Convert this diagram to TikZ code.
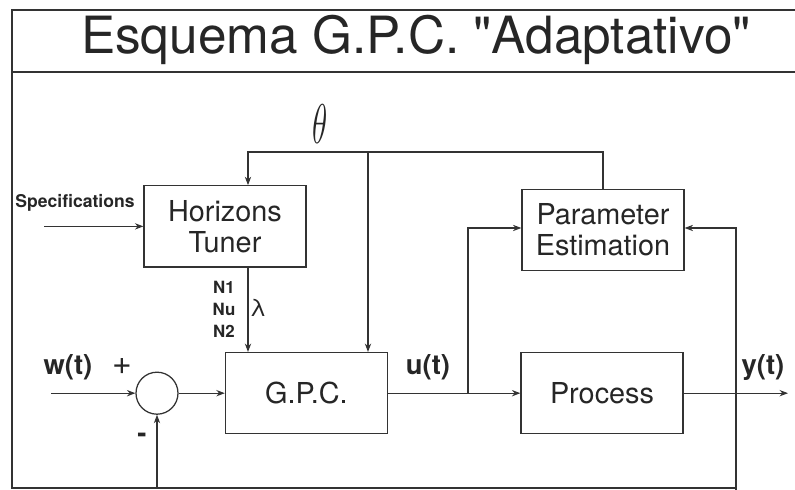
\documentclass[tikz,border=0pt]{standalone}
\usepackage{fontspec}
\setmainfont{TeX Gyre Heros}
\usetikzlibrary{arrows.meta}

\begin{document}
\begin{tikzpicture}[
	block/.style={draw=black!80, line width=0.9pt, shape=rectangle, minimum width=4.05cm, minimum height=2.03cm, align=center, font=\fontsize{20.5}{22}\selectfont, text=black!85},
	wire/.style={draw=black!80, line width=0.8pt, -{Stealth[length=6pt, width=4.5pt]}},
	line/.style={draw=black!80, line width=0.8pt},
	sig/.style={font=\bfseries\fontsize{19.5}{22}\selectfont, text=black!85}]
	\useasboundingbox (0, 0) rectangle (19.875, 12.25);
	% Frame and title:
	\draw[line, line width=1pt] (19.875, 12) -- (0.3, 12) -- (0.3, 0.05) -- (18.4, 0.05);
	\draw[line, line width=1pt] (0.3, 10.45) -- (19.875, 10.45);
	\node[font=\fontsize{36.5}{40}\selectfont, text=black!85] (title) at (10.4, 11.25){Esquema G.P.C. \textquotedbl Adaptativo\textquotedbl};
	% Blocks:
	\node[block] (tuner) at (5.625, 6.59){Horizons\\Tuner};
	\node[block] (estim) at (15.075, 6.5){Parameter\\Estimation};
	\node[block] (gpc) at (7.66, 2.42){G.P.C.};
	\node[block] (proc) at (15.05, 2.42){Process};
	\node[draw=black!80, line width=0.9pt, shape=circle, minimum size=1.05cm] (sum) at (3.925, 2.42){};
	% Points on the wires:
	\coordinate (spec) at (1.1, 6.59);
	\coordinate (win) at (1.275, 2.42);
	\coordinate (thL) at (6.2, 8.45);
	\coordinate (thM) at (9.2, 8.45);
	\coordinate (uB) at (11.7, 2.42);
	\coordinate (yB) at (18.4, 2.42);
	\coordinate (yout) at (19.7, 2.42);
	\coordinate (fbL) at (3.925, 0.05);
	% Wires:
	\draw[wire] (spec) -- (tuner.west);
	\draw[wire] (estim.north) |- (thL) -- (thL |- tuner.north);
	\draw[wire] (thM) -- (thM |- gpc.north);
	\draw[wire] (thL |- tuner.south) -- (thL |- gpc.north);
	\draw[wire] (win) -- (sum.west);
	\draw[wire] (sum.east) -- (gpc.west);
	\draw[wire] (gpc.east) -- (proc.west);
	\draw[wire] (uB) |- (estim.west |- 0, 6.55);
	\draw[wire] (proc.east) -- (yout);
	\draw[wire] (yB |- 0, -0.1) |- (estim.east |- 0, 6.55);
	\draw[wire] (fbL) -- (sum.south);
	% Labels:
	\node[font=\Huge, text=black!85] (theta) at (8.0, 9.15){\scalebox{0.9}[1.6]{$\theta$}};
	\node[font=\bfseries\fontsize{12.5}{14}\selectfont, text=black!85] (speclbl) at (1.875, 7.17){Specifications};
	\node[font=\bfseries\fontsize{12}{15.6}\selectfont, align=center, text=black!85] (hor) at (5.6, 4.52){N1\\Nu\\N2};
	\node[font=\fontsize{17}{17}\selectfont, text=black!85] (lam) at (6.45, 4.55){λ};
	\node[sig] (wlbl) at (1.7, 3.075){w(t)};
	\node[font=\fontsize{24}{24}\selectfont, text=black!85] (plus) at (3.05, 3.075){+};
	\node[sig] (minus) at (3.55, 1.3){-};
	\node[sig] (ulbl) at (10.7, 3.075){u(t)};
	\node[sig] (ylbl) at (19.075, 3.05){y(t)};
\end{tikzpicture}
\end{document}
